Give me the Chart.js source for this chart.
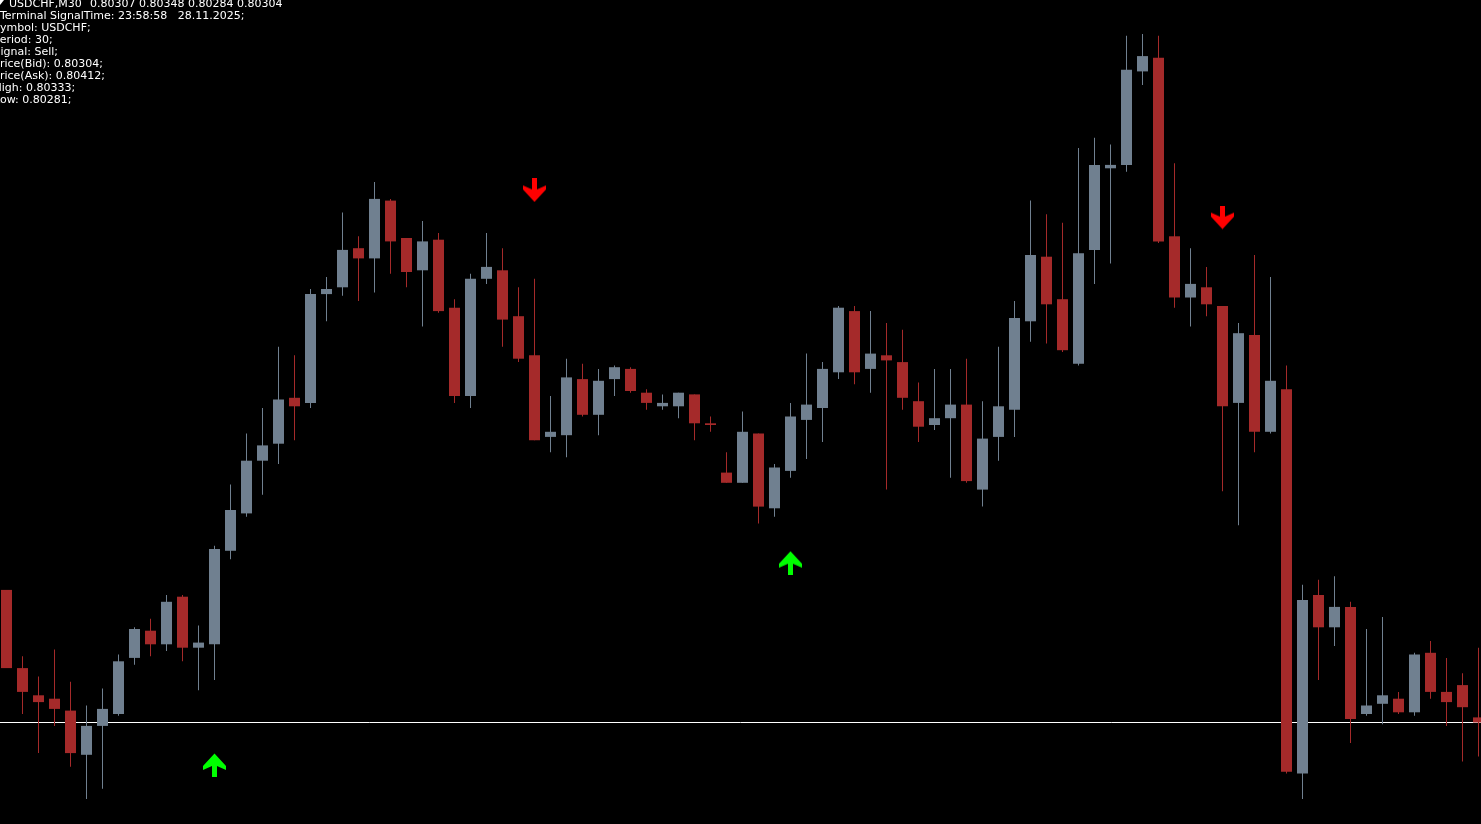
<!DOCTYPE html>
<html>
<head>
<meta charset="utf-8">
<script src="https://cdn.jsdelivr.net/npm/chart.js@4.4.1/dist/chart.umd.min.js"></script>
<style>
html,body{margin:0;padding:0;background:#000;overflow:hidden;}
canvas{display:block;}
</style>
</head>
<body>
<canvas id="c" width="1481" height="824"></canvas>
<script>
// ---- data (USDCHF, M30) ----
const opens = [0.80382,0.80336,0.80320,0.80318,0.80311,0.80285,0.80302,0.80309,0.80342,0.80358,
0.80350,0.80378,0.80348,0.80350,0.80405,0.80427,0.80458,0.80468,0.80495,0.80492,
0.80556,0.80560,0.80583,0.80577,0.80611,0.80589,0.80570,0.80588,0.80548,0.80496,
0.80565,0.80570,0.80543,0.80520,0.80472,0.80473,0.80506,0.80485,0.80506,0.80512,
0.80498,0.80490,0.80490,0.80497,0.80480,0.80451,0.80445,0.80474,0.80430,0.80452,
0.80482,0.80489,0.80510,0.80546,0.80512,0.80520,0.80516,0.80493,0.80479,0.80483,
0.80491,0.80441,0.80472,0.80488,0.80540,0.80578,0.80553,0.80515,0.80582,0.80630,
0.80632,0.80687,0.80695,0.80590,0.80554,0.80560,0.80549,0.80492,0.80532,0.80475,
0.80500,0.80274,0.80379,0.80360,0.80372,0.80309,0.80315,0.80318,0.80310,0.80345,
0.80322,0.80326,0.80307];
const highs = [0.80382,0.80343,0.80331,0.80347,0.80328,0.80314,0.80324,0.80344,0.80360,0.80365,
0.80379,0.80379,0.80361,0.80408,0.80444,0.80474,0.80489,0.80525,0.80520,0.80559,
0.80566,0.80604,0.80590,0.80622,0.80612,0.80589,0.80599,0.80592,0.80553,0.80568,
0.80592,0.80583,0.80560,0.80565,0.80496,0.80518,0.80515,0.80512,0.80514,0.80513,
0.80500,0.80497,0.80498,0.80497,0.80484,0.80463,0.80487,0.80474,0.80456,0.80492,
0.80521,0.80516,0.80549,0.80549,0.80546,0.80539,0.80535,0.80504,0.80512,0.80512,
0.80518,0.80493,0.80525,0.80552,0.80611,0.80603,0.80598,0.80642,0.80648,0.80644,
0.80708,0.80709,0.80708,0.80633,0.80583,0.80572,0.80549,0.80539,0.80579,0.80566,
0.80514,0.80385,0.80388,0.80390,0.80375,0.80359,0.80366,0.80322,0.80345,0.80352,
0.80342,0.80333,0.80348];
const lows = [0.80336,0.80309,0.80286,0.80302,0.80278,0.80259,0.80265,0.80308,0.80338,0.80343,
0.80346,0.80340,0.80323,0.80329,0.80400,0.80425,0.80438,0.80456,0.80470,0.80489,
0.80540,0.80555,0.80552,0.80557,0.80568,0.80560,0.80537,0.80545,0.80492,0.80489,
0.80562,0.80525,0.80516,0.80470,0.80463,0.80460,0.80484,0.80473,0.80496,0.80498,
0.80488,0.80488,0.80483,0.80470,0.80475,0.80445,0.80445,0.80421,0.80425,0.80448,
0.80459,0.80469,0.80506,0.80503,0.80498,0.80441,0.80488,0.80469,0.80476,0.80448,
0.80445,0.80431,0.80458,0.80472,0.80528,0.80527,0.80522,0.80514,0.80562,0.80574,
0.80628,0.80679,0.80586,0.80548,0.80537,0.80543,0.80440,0.80420,0.80463,0.80474,
0.80274,0.80259,0.80329,0.80349,0.80292,0.80308,0.80303,0.80309,0.80308,0.80318,
0.80302,0.80281,0.80284];
const closes = [0.80336,0.80322,0.80316,0.80312,0.80286,0.80302,0.80312,0.80340,0.80359,0.80350,
0.80375,0.80348,0.80351,0.80406,0.80429,0.80458,0.80467,0.80494,0.80490,0.80556,
0.80559,0.80582,0.80577,0.80612,0.80587,0.80569,0.80587,0.80546,0.80496,0.80565,
0.80572,0.80541,0.80518,0.80470,0.80475,0.80507,0.80485,0.80505,0.80513,0.80499,
0.80492,0.80492,0.80498,0.80480,0.80479,0.80445,0.80475,0.80431,0.80454,0.80484,
0.80491,0.80512,0.80548,0.80510,0.80521,0.80517,0.80495,0.80478,0.80483,0.80491,
0.80446,0.80471,0.80490,0.80542,0.80579,0.80550,0.80523,0.80580,0.80632,0.80632,
0.80688,0.80696,0.80587,0.80554,0.80562,0.80550,0.80490,0.80533,0.80475,0.80505,
0.80275,0.80376,0.80360,0.80372,0.80306,0.80314,0.80320,0.80310,0.80344,0.80322,
0.80316,0.80313,0.80304];
const bidPrice = 0.80304;
const buyArrowBars = [13, 49];
const buyArrowPrices = [0.80279, 0.80398];
const sellArrowBars = [33, 76];
const sellArrowPrices = [0.80617, 0.80601];
const titleSymbol = "USDCHF,M30";
const titlePrices = "0.80307 0.80348 0.80284 0.80304";
const infoLines = [
  "Terminal SignalTime: 23:58:58   28.11.2025;",
  "Symbol: USDCHF;",
  "Period: 30;",
  "Signal: Sell;",
  "Price(Bid): 0.80304;",
  "Price(Ask): 0.80412;",
  "High: 0.80333;",
  "Low: 0.80281;"
];

// ---- build ----
const BULL = '#708090', BEAR = '#A52A2A';
const idx = opens.map((_, i) => i);
const colors = idx.map(i => closes[i] > opens[i] || (closes[i] === opens[i] && i === 69) ? BULL : BEAR);
const wickData = idx.map(i => ({x: i, y: [lows[i], highs[i]]}));
const bodyData = idx.map(i => ({x: i, y: [Math.min(opens[i], closes[i]), Math.max(opens[i], closes[i])]}));

function makeArrow(color, up) {
  const c = document.createElement('canvas');
  c.width = 23; c.height = 24;
  const g = c.getContext('2d');
  let pts = [[9,0],[14,0],[14,11],[23,7],[23,11],[11.5,23.5],[0,11],[0,7],[9,11]];
  if (up) pts = pts.map(p => [p[0], 24 - p[1]]);
  g.fillStyle = color;
  g.beginPath();
  pts.forEach((p, k) => k ? g.lineTo(p[0], p[1]) : g.moveTo(p[0], p[1]));
  g.closePath();
  g.fill();
  return c;
}
const upImg = makeArrow('#00FF00', true);
const downImg = makeArrow('#FF0000', false);

const infoPlugin = {
  id: 'info',
  afterDraw(chart) {
    const ctx = chart.ctx;
    ctx.save();
    ctx.fillStyle = '#FFFFFF';
    ctx.font = '11px "DejaVu Sans"';
    ctx.textBaseline = 'alphabetic';
    ctx.fillText(titleSymbol, 9, 7);
    ctx.fillText(titlePrices, 90, 7);
    const xs = [0, -7, -6.5, -6.5, -6.5, -6.5, -6.5, -6];
    infoLines.forEach((t, i) => ctx.fillText(t, xs[i], 19 + 12 * i));
    ctx.beginPath();
    ctx.moveTo(0, 0); ctx.lineTo(4, 0); ctx.lineTo(0, 5); ctx.closePath();
    ctx.fill();
    ctx.restore();
  }
};

const xMin = -6.5 / 16;
const xMax = xMin + 1481 / 16;
const yMax = 0.80729;
const yMin = yMax - 824 / 170000;

new Chart(document.getElementById('c'), {
  type: 'bar',
  data: {
    datasets: [
      {
        type: 'line', order: 10,
        data: [{x: xMin - 1, y: bidPrice}, {x: xMax + 1, y: bidPrice}],
        borderColor: '#FFFFFF', borderWidth: 1, pointRadius: 0, fill: false
      },
      {
        type: 'bar', order: 3, data: wickData, grouped: false,
        backgroundColor: colors, barThickness: 1, borderWidth: 0, inflateAmount: 0
      },
      {
        type: 'bar', order: 2, data: bodyData, grouped: false,
        backgroundColor: colors, barThickness: 11, borderWidth: 0, inflateAmount: 0, minBarLength: 1
      },
      {
        type: 'line', order: 1, showLine: false,
        data: buyArrowBars.map((b, i) => ({x: b, y: buyArrowPrices[i]})),
        pointStyle: upImg, pointRadius: 12, clip: false
      },
      {
        type: 'line', order: 0, showLine: false,
        data: sellArrowBars.map((b, i) => ({x: b, y: sellArrowPrices[i]})),
        pointStyle: downImg, pointRadius: 12, clip: false
      }
    ]
  },
  options: {
    responsive: false,
    devicePixelRatio: 1,
    animation: false,
    events: [],
    layout: {padding: 0, autoPadding: false},
    plugins: {legend: {display: false}, tooltip: {enabled: false}},
    scales: {
      x: {type: 'linear', min: xMin, max: xMax, display: false, offset: false},
      y: {type: 'linear', min: yMin, max: yMax, display: false}
    }
  },
  plugins: [infoPlugin]
});
</script>
</body>
</html>
